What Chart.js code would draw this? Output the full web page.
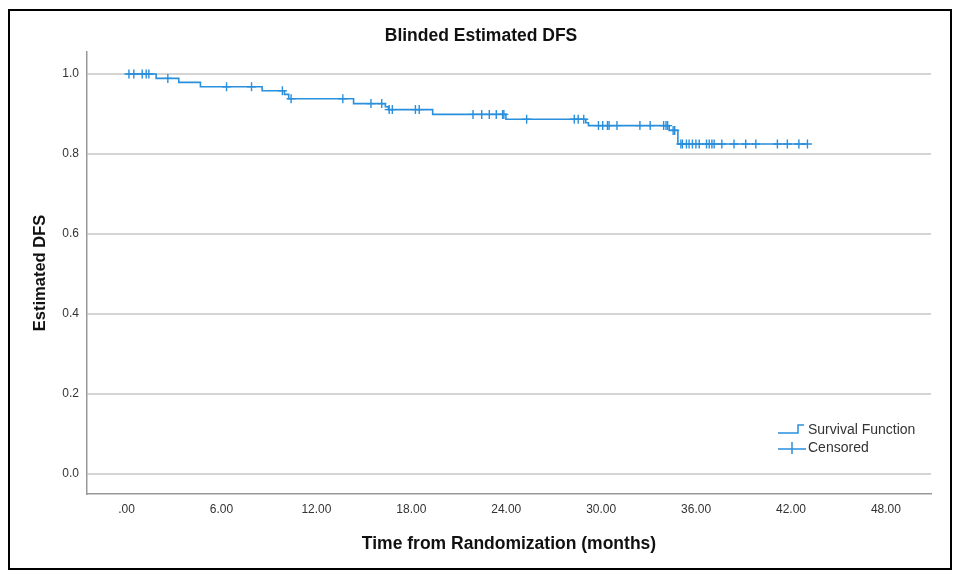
<!DOCTYPE html>
<html>
<head>
<meta charset="utf-8">
<script src="https://cdn.jsdelivr.net/npm/chart.js@4"></script>
<style>
  html, body { margin: 0; padding: 0; background: #fff; }
  #wrap { position: relative; width: 954px; height: 576px; }
  #myChart { position: absolute; left: 0; top: 0; }
  #frame { position: absolute; left: 8px; top: 9px; width: 944px; height: 561px; box-sizing: border-box; border: 2px solid #000; pointer-events: none; }
</style>
</head>
<body>
<div id="wrap">
  <canvas id="myChart" width="954" height="576"></canvas>
  <div id="frame"></div>
</div>
<script>
// Kaplan-Meier steps (time in months, estimated DFS after the drop)
const stepTimes = [0, 1.87, 3.3, 4.67, 8.57, 9.98, 10.25, 14.35, 16.36, 16.55, 19.35, 23.98, 29.03, 29.2, 34.3, 34.85, 43.04];
const stepSurv = [1.0, 0.989, 0.979, 0.968, 0.958, 0.949, 0.938, 0.926, 0.918, 0.911, 0.899, 0.887, 0.878, 0.871, 0.859, 0.825, 0.825];

// censored patients
const censorTimes = [
  0.15, 0.46, 0.99, 1.24, 1.41, 2.61, 6.32, 7.9, 9.85, 10.4, 13.67, 15.45, 16.13, 16.6, 16.8,
  18.26, 18.5, 21.9, 22.45, 22.93, 23.37, 23.77, 23.85, 25.29, 28.3, 28.55, 28.9,
  29.83, 30.1, 30.4, 30.5, 31.0, 32.45, 33.1, 33.95, 34.1, 34.2, 34.55, 34.65,
  35.04, 35.14, 35.39, 35.56, 35.77, 35.99, 36.2, 36.66, 36.83, 37.0, 37.14, 37.63,
  38.4, 39.14, 39.78, 41.14, 41.77, 42.5, 43.04
];
const censorSurv = [
  1.0, 1.0, 1.0, 1.0, 1.0, 0.989, 0.968, 0.968, 0.958, 0.938, 0.938, 0.926, 0.926, 0.911, 0.911,
  0.911, 0.911, 0.899, 0.899, 0.899, 0.899, 0.899, 0.899, 0.887, 0.887, 0.887, 0.887,
  0.871, 0.871, 0.871, 0.871, 0.871, 0.871, 0.871, 0.871, 0.871, 0.871, 0.859, 0.859,
  0.825, 0.825, 0.825, 0.825, 0.825, 0.825, 0.825, 0.825, 0.825, 0.825, 0.825, 0.825,
  0.825, 0.825, 0.825, 0.825, 0.825, 0.825, 0.825
];

const xTickValues = [0, 6, 12, 18, 24, 30, 36, 42, 48];
const xTickLabels = [".00", "6.00", "12.00", "18.00", "24.00", "30.00", "36.00", "42.00", "48.00"];
const yTickValues = [0, 0.2, 0.4, 0.6, 0.8, 1.0];
const yTickLabels = ["0.0", "0.2", "0.4", "0.6", "0.8", "1.0"];
const legendLabels = ["Survival Function", "Censored"];

const lineColor = "#2a8fdc";
const fontFamily = "'Liberation Sans', Arial, sans-serif";

const kmLegend = {
  id: "kmLegend",
  afterDraw(chart) {
    const { ctx, chartArea } = chart;
    const x = chartArea.right - 153;
    const y1 = chartArea.bottom - 64;
    const y2 = chartArea.bottom - 46;
    ctx.save();
    ctx.strokeStyle = lineColor;
    ctx.lineWidth = 1.5;
    ctx.beginPath();
    ctx.moveTo(x, y1 + 3);
    ctx.lineTo(x + 20, y1 + 3);
    ctx.lineTo(x + 20, y1 - 5);
    ctx.lineTo(x + 26, y1 - 5);
    ctx.stroke();
    ctx.beginPath();
    ctx.moveTo(x, y2 + 1);
    ctx.lineTo(x + 28, y2 + 1);
    ctx.moveTo(x + 14, y2 - 6);
    ctx.lineTo(x + 14, y2 + 6);
    ctx.stroke();
    ctx.fillStyle = "#333";
    ctx.font = "14px " + fontFamily;
    ctx.textBaseline = "middle";
    ctx.fillText(legendLabels[0], x + 30, y1);
    ctx.fillText(legendLabels[1], x + 30, y2);
    ctx.restore();
  },
};

const element = document.getElementById("myChart");
Chart.defaults.font.family = fontFamily;

new Chart(element, {
  type: "line",
  data: {
    datasets: [
      {
        label: legendLabels[0],
        data: stepTimes.map((t, i) => ({ x: t, y: stepSurv[i] })),
        stepped: "before",
        borderColor: lineColor,
        borderWidth: 1.6,
        pointRadius: 0,
        fill: false,
      },
      {
        label: legendLabels[1],
        data: censorTimes.map((t, i) => ({ x: t, y: censorSurv[i] })),
        showLine: false,
        pointStyle: "cross",
        pointRadius: 4.5,
        borderColor: lineColor,
        borderWidth: 1.4,
      },
    ],
  },
  options: {
    responsive: false,
    animation: false,
    devicePixelRatio: 1,
    layout: { padding: { left: 31, right: 23, top: 0, bottom: 0 } },
    plugins: {
      legend: { display: false },
      tooltip: { enabled: false },
      title: {
        display: true,
        text: "Blinded Estimated DFS",
        color: "#111",
        font: { size: 17.5, weight: "bold" },
        padding: { top: 26, bottom: 5 },
      },
    },
    scales: {
      x: {
        type: "linear",
        min: -2.5,
        max: 50.85,
        afterBuildTicks: (scale) => {
          scale.ticks = xTickValues.map((v) => ({ value: v }));
        },
        afterFit: (scale) => {
          scale.height = 82;
        },
        ticks: {
          callback: (value, index) => xTickLabels[index],
          color: "#333",
          font: { size: 12 },
          padding: 8,
          maxRotation: 0,
          autoSkip: false,
        },
        grid: { display: false, drawTicks: false },
        border: { display: true, color: "#999", width: 1.5 },
        title: {
          display: true,
          text: "Time from Randomization (months)",
          color: "#111",
          font: { size: 17.5, weight: "bold" },
          padding: { top: 0, bottom: 21 },
        },
      },
      y: {
        type: "linear",
        min: -0.05,
        max: 1.055,
        afterBuildTicks: (scale) => {
          scale.ticks = yTickValues.map((v) => ({ value: v }));
        },
        afterFit: (scale) => {
          scale.width = 56;
        },
        ticks: {
          callback: (value, index) => yTickLabels[index],
          color: "#333",
          font: { size: 12 },
          padding: 8,
        },
        grid: { color: "#d4d4d4", lineWidth: 2, drawTicks: false },
        border: { display: true, color: "#999", width: 1.5 },
        title: {
          display: true,
          text: "Estimated DFS",
          color: "#111",
          font: { size: 16.5, weight: "bold" },
          padding: { top: 0, bottom: 0 },
        },
      },
    },
  },
  plugins: [kmLegend],
});
</script>
</body>
</html>
